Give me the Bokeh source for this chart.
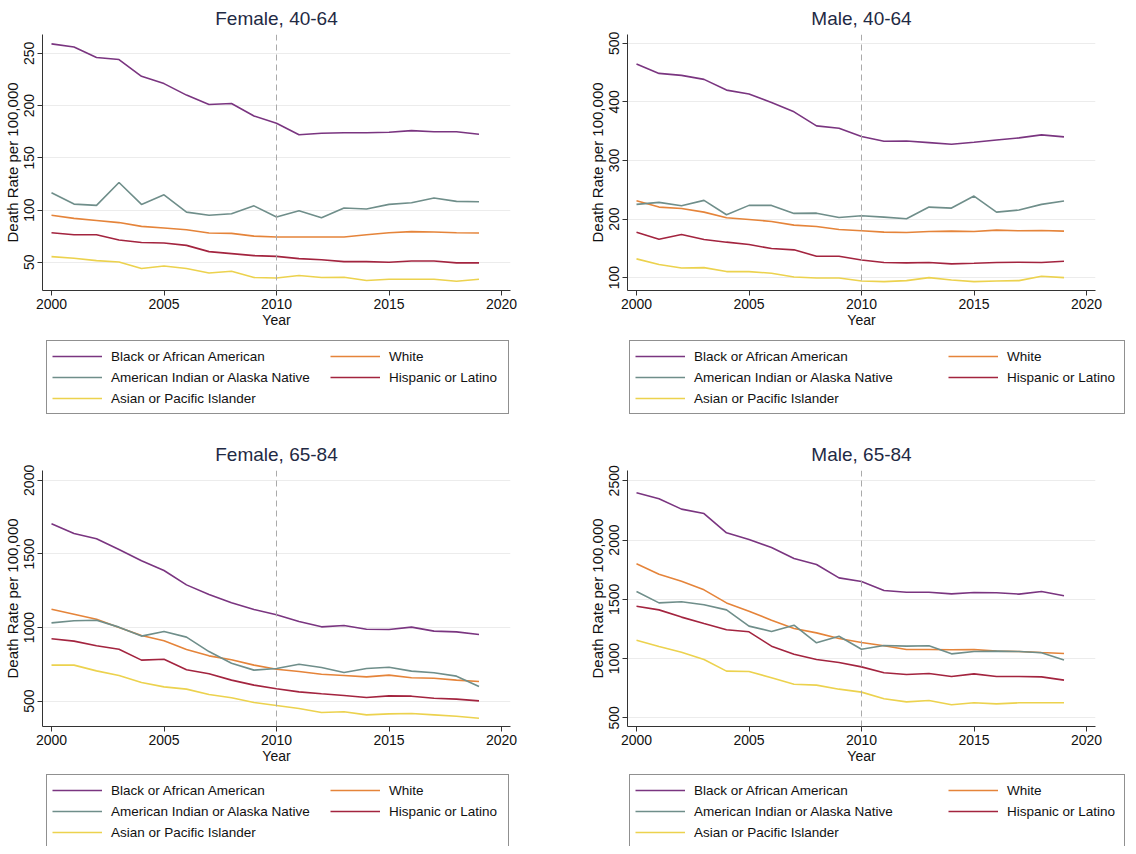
from bokeh.plotting import figure
from bokeh.models import Span, Legend, LegendItem, FixedTicker, Range1d
from bokeh.layouts import column, row
from bokeh.embed import file_html
from bokeh.resources import INLINE

years = list(range(2000, 2020))
groups = ["Black or African American", "White", "American Indian or Alaska Native",
          "Hispanic or Latino", "Asian or Pacific Islander"]

# Female, 40-64
f4064_black = [259, 256, 246, 244, 228, 221, 210, 201, 202, 190, 183, 172, 173.5, 174, 174, 174.5, 176, 175, 175, 172.6]
f4064_white = [95, 92, 90, 88, 84.4, 82.8, 81.2, 78, 77.7, 75, 74.2, 74.2, 74.2, 74.2, 76.4, 78.3, 79.3, 79, 78.3, 78]
f4064_aian = [116.6, 105.7, 104.5, 126.4, 105.4, 114.6, 98, 95, 96.5, 104, 93.3, 99.4, 92.7, 102, 101, 105.4, 107, 111.5, 108.3, 108]
f4064_hisp = [78.3, 76.4, 76.4, 71.3, 69, 68.5, 66.2, 60.2, 58.3, 56.4, 55.7, 53.5, 52.5, 50.6, 50.6, 50, 51.3, 51.3, 49.4, 49.4]
f4064_asian = [55.4, 53.8, 51.6, 50.3, 44, 46.5, 44, 39.8, 41.4, 35.4, 35, 37.3, 35.4, 35.7, 32.5, 33.8, 33.8, 33.8, 31.8, 33.8]

# Male, 40-64
m4064_black = [464.6, 448.6, 445.2, 438.4, 420.1, 413.3, 399, 383, 359, 355, 340.8, 332.7, 333.3, 330.5, 327.7, 331, 335, 338.5, 343.6, 340.2]
m4064_white = [231.2, 220.4, 218.1, 211.8, 202.1, 199.3, 195.9, 189.6, 187.3, 182.2, 179.9, 177.6, 177, 178.7, 179.3, 178.7, 181, 179.9, 180.5, 179.3]
m4064_aian = [225, 228.4, 222.7, 231.8, 207.3, 223.3, 223.3, 209.6, 210, 202.7, 205.6, 203.3, 200.4, 220.4, 218.7, 239.2, 211.8, 215.3, 225, 230.7]
m4064_hisp = [177.6, 165.6, 173.6, 165, 160.5, 156.5, 149.6, 147.4, 136.5, 136.5, 130.2, 125.7, 125.1, 125.7, 123.4, 124.5, 125.7, 126.2, 125.7, 128]
m4064_asian = [132, 122.3, 116.5, 117.1, 110.3, 110.3, 107.4, 101.1, 99.4, 99.4, 94.3, 93.2, 94.9, 100, 96, 93.2, 94.3, 94.9, 102.3, 100]

# Female, 65-84
f6584_black = [1705, 1639, 1603, 1530, 1454, 1388, 1290, 1225, 1168, 1123, 1087, 1041, 1005, 1014, 989, 987, 1003, 976, 971, 953]
f6584_white = [1125, 1091, 1057, 1000, 946, 910, 851, 808, 781, 745, 717, 702, 683, 674, 665, 677, 659, 656, 643, 634]
f6584_aian = [1032, 1046, 1050, 1003, 942, 973, 935, 837, 758, 711, 722, 751, 729, 695, 722, 731, 704, 693, 670, 600]
f6584_hisp = [924, 908, 876, 853, 779, 785, 713, 686, 643, 609, 584, 563, 550, 539, 525, 536, 534, 520, 514, 502]
f6584_asian = [745, 745, 706, 674, 627, 597, 582, 545, 523, 491, 471, 450, 423, 428, 407, 414, 416, 407, 398, 384]

# Male, 65-84
m6584_black = [2399, 2348, 2261, 2224, 2061, 2005, 1937, 1845, 1794, 1681, 1651, 1575, 1560, 1560, 1546, 1558, 1555, 1544, 1566, 1530]
m6584_white = [1800, 1712, 1653, 1580, 1470, 1400, 1324, 1254, 1217, 1169, 1136, 1108, 1077, 1077, 1074, 1077, 1063, 1060, 1051, 1043]
m6584_aian = [1566, 1470, 1479, 1454, 1411, 1274, 1229, 1282, 1133, 1189, 1079, 1110, 1105, 1108, 1040, 1060, 1063, 1060, 1049, 989]
m6584_hisp = [1442, 1411, 1350, 1296, 1243, 1226, 1105, 1037, 992, 967, 930, 880, 866, 874, 849, 871, 849, 849, 846, 818]
m6584_asian = [1155, 1102, 1054, 992, 894, 891, 838, 784, 776, 742, 717, 661, 635, 646, 610, 627, 618, 627, 627, 627]

colors = ["#7a3580", "#e5843a", "#6f8e8a", "#a3243f", "#ecd24e"]
FONT = "Liberation Sans"


def make_panel(title, series, yr, yticks, border_right, border_bottom):
    p = figure(frame_width=468, frame_height=256, output_backend="svg", toolbar_location=None,
               x_range=Range1d(1999.6, 2020.4), y_range=Range1d(*yr),
               min_border_left=33, min_border_right=border_right, min_border_top=29,
               min_border_bottom=border_bottom)
    p.title.text = title
    p.title.align = "center"
    p.title.text_font = FONT
    p.title.text_font_size = "19px"
    p.title.text_font_style = "normal"
    p.title.text_color = "#1f2a44"
    p.title.standoff = 11
    p.outline_line_color = None
    p.xgrid.grid_line_color = None
    p.ygrid.grid_line_color = "#ececec"
    p.ygrid.grid_line_width = 1
    p.xaxis.ticker = FixedTicker(ticks=[2000, 2005, 2010, 2015, 2020])
    p.yaxis.ticker = FixedTicker(ticks=yticks)
    for ax in (p.xaxis[0], p.yaxis[0]):
        ax.axis_line_color = "#333333"
        ax.major_tick_line_color = "#333333"
        ax.major_tick_out = 5
        ax.major_tick_in = 0
        ax.minor_tick_line_color = None
        ax.major_label_text_font = FONT
        ax.major_label_text_font_size = "14px"
        ax.major_label_text_color = "#111111"
        ax.axis_label_text_font = FONT
        ax.axis_label_text_font_style = "normal"
        ax.axis_label_text_color = "#111111"
    p.xaxis.axis_label = "Year"
    p.xaxis.axis_label_text_font_size = "14px"
    p.xaxis.axis_label_standoff = 0
    p.xaxis.major_label_standoff = 3
    p.yaxis.axis_label = "Death Rate per 100,000"
    p.yaxis.axis_label_text_font_size = "15px"
    p.yaxis.axis_label_standoff = 1
    p.yaxis.major_label_orientation = "vertical"
    p.yaxis.major_label_standoff = 3
    p.add_layout(Span(location=2010, dimension="height", line_color="#aaaaaa",
                      line_dash="6 4", line_width=1))
    for vals, c in zip(series, colors):
        p.line(years, vals, line_color=c, line_width=1.6)
    return p


def make_legend(series, width, height, left, right, w1, w2):
    # legend-only strip; the lines lie outside its visible range
    lf = figure(width=width, height=height, output_backend="svg", toolbar_location=None,
                x_axis_location=None, y_axis_location=None,
                x_range=Range1d(0, 1), y_range=Range1d(0, 1), frame_align=False,
                min_border_left=left, min_border_right=right, min_border_top=0, min_border_bottom=0)
    lf.outline_line_color = None
    lf.grid.visible = False
    rends = [lf.line(years, vals, line_color=c, line_width=1.3) for vals, c in zip(series, colors)]
    common = dict(orientation="vertical", label_text_font=FONT, label_text_font_size="13.5px",
                  label_text_color="#111111", glyph_width=50, glyph_height=20, label_height=20,
                  label_standoff=9, spacing=1, padding=5)
    leg1 = Legend(items=[LegendItem(label=groups[i], renderers=[rends[i]]) for i in (0, 2, 4)],
                  location="top_left", margin=4, border_line_color="#222222", border_line_width=1,
                  background_fill_color="white", background_fill_alpha=1, label_width=w1, **common)
    leg2 = Legend(items=[LegendItem(label=groups[i], renderers=[rends[i]]) for i in (1, 3)],
                  location="top_right", margin=10, border_line_color=None, background_fill_alpha=0,
                  label_width=w2, **common)
    lf.add_layout(leg1)
    lf.add_layout(leg2)
    return lf


s1 = [f4064_black, f4064_white, f4064_aian, f4064_hisp, f4064_asian]
s2 = [m4064_black, m4064_white, m4064_aian, m4064_hisp, m4064_asian]
s3 = [f6584_black, f6584_white, f6584_aian, f6584_hisp, f6584_asian]
s4 = [m6584_black, m6584_white, m6584_aian, m6584_hisp, m6584_asian]

p1 = make_panel("Female, 40-64", s1, (23, 268), [50, 100, 150, 200, 250], 75, 46)
p2 = make_panel("Male, 40-64", s2, (78, 515), [100, 200, 300, 400, 500], 40, 46)
p3 = make_panel("Female, 65-84", s3, (328, 2067), [500, 1000, 1500, 2000], 75, 44)
p4 = make_panel("Male, 65-84", s4, (427, 2587), [500, 1000, 1500, 2000, 2500], 40, 44)

l1 = make_legend(s1, 576, 100, 42, 67, 392, 110)
l2 = make_legend(s2, 544, 100, 40, 0, 425, 112)
l3 = make_legend(s3, 576, 76, 42, 67, 392, 110)
l4 = make_legend(s4, 544, 76, 40, 0, 425, 112)

layout = column(row(column(p1, l1, spacing=0), column(p2, l2, spacing=0), spacing=0),
                row(column(p3, l3, spacing=0), column(p4, l4, spacing=0), spacing=0),
                spacing=0)
open("out.html", "w").write(file_html(layout, INLINE))
